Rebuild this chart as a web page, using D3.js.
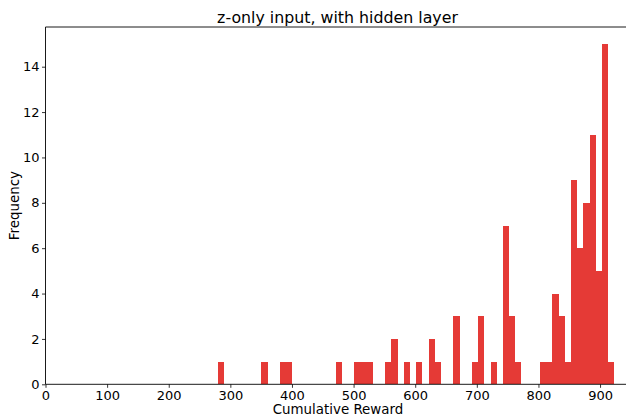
<!DOCTYPE html>
<html>
<head>
<meta charset="utf-8">
<script src="https://cdn.jsdelivr.net/npm/d3@7"></script>
<style>
  html, body { margin: 0; padding: 0; background: #fff; }
  svg { display: block; }
  text { font-family: "DejaVu Sans", sans-serif; fill: #000; }
</style>
</head>
<body>
<svg id="chart" width="626" height="415"></svg>
<script>
// Histogram data: 64 bins starting at binStart, width binWidth
const binStart = 280;
const binWidth = 10.05;
const counts = [
  1,0,0,0,0,0,0,1,0,0,
  1,1,0,0,0,0,0,0,0,1,
  0,0,1,1,1,0,0,1,2,0,
  1,0,1,0,2,1,0,0,3,0,
  0,1,3,0,1,0,7,3,1,0,
  0,0,1,1,4,3,1,9,6,8,
  11,5,15,1
];
const xTicks = [0,100,200,300,400,500,600,700,800,900];
const yTicks = [0,2,4,6,8,10,12,14];
const title = "z-only input, with hidden layer";
const xLabel = "Cumulative Reward";
const yLabel = "Frequency";

const svg = d3.select("#chart");
const mLeft = 45.5, mRight = 630.5, mTop = 27, mBottom = 384.3;

const x = d3.scaleLinear().domain([0, 949.4]).range([mLeft, mRight]);
const y = d3.scaleLinear().domain([0, 15.75]).range([mBottom, mTop]);

const bins = counts.map((c, i) => ({x0: binStart + i * binWidth, x1: binStart + (i + 1) * binWidth, c}));

svg.append("g").selectAll("rect")
  .data(bins.filter(d => d.c > 0))
  .join("rect")
  .attr("x", d => x(d.x0))
  .attr("width", d => x(d.x1) - x(d.x0))
  .attr("y", d => y(d.c))
  .attr("height", d => y(0) - y(d.c))
  .attr("fill", "#e53a36")
  .attr("shape-rendering", "crispEdges");

// Axes
const xAxis = d3.axisBottom(x).tickValues(xTicks).tickSize(3.5).tickPadding(2.5);
const gx = svg.append("g").attr("transform", `translate(0,${mBottom})`).call(xAxis);
gx.select(".domain").remove();
gx.selectAll("text").attr("font-size", 13).style("font-family", "DejaVu Sans");
gx.selectAll("line").attr("stroke", "#000").attr("stroke-width", 0.8);

const yAxis = d3.axisLeft(y).tickValues(yTicks).tickSize(3.5).tickPadding(2.5);
const gy = svg.append("g").attr("transform", `translate(${mLeft},0)`).call(yAxis);
gy.select(".domain").remove();
gy.selectAll("text").attr("font-size", 13).style("font-family", "DejaVu Sans");
gy.selectAll("line").attr("stroke", "#000").attr("stroke-width", 0.8);

// Spines
svg.append("line").attr("x1", mLeft).attr("x2", mLeft).attr("y1", mTop).attr("y2", mBottom)
  .attr("stroke", "#000").attr("stroke-width", 0.9);
svg.append("line").attr("x1", mLeft).attr("x2", 626).attr("y1", mTop).attr("y2", mTop)
  .attr("stroke", "#000").attr("stroke-width", 0.9);
svg.append("line").attr("x1", mLeft).attr("x2", 626).attr("y1", mBottom).attr("y2", mBottom)
  .attr("stroke", "#000").attr("stroke-width", 0.9);

// Labels
svg.append("text").attr("x", 337.5).attr("y", 23)
  .attr("text-anchor", "middle").attr("font-size", 15.8).text(title);
svg.append("text").attr("x", 338).attr("y", 413.5)
  .attr("text-anchor", "middle").attr("font-size", 13.4).text(xLabel);
svg.append("text").attr("transform", `translate(19,${(mTop + mBottom) / 2}) rotate(-90)`)
  .attr("text-anchor", "middle").attr("font-size", 13.4).text(yLabel);
</script>
</body>
</html>
